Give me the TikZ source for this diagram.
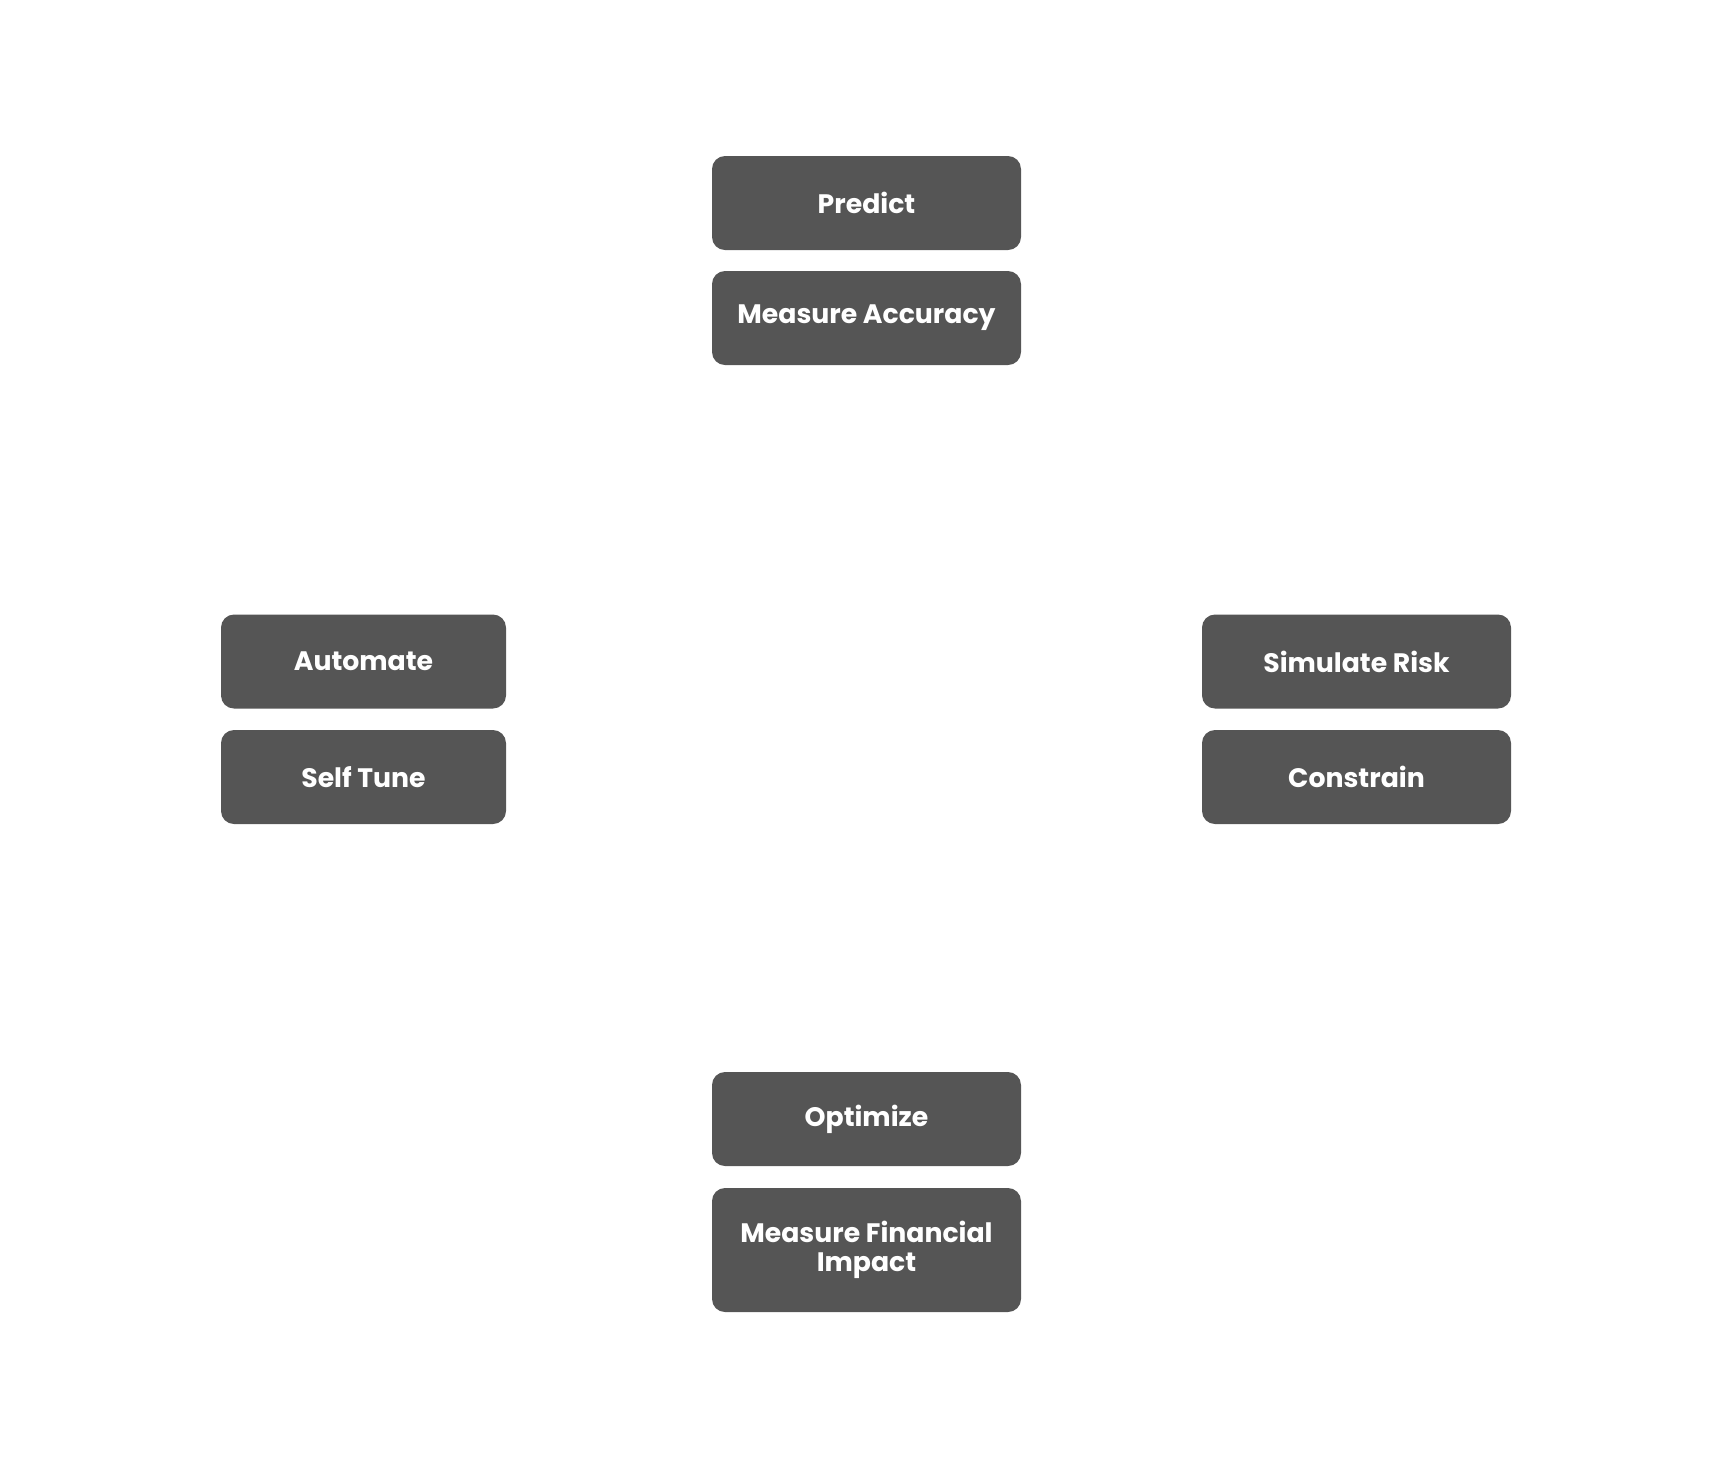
\documentclass[tikz,border=0pt]{standalone}
\usepackage{fontspec}
\setmainfont{Poppins}
\definecolor{boxgray}{HTML}{555555}
\begin{document}
\begin{tikzpicture}[%
  stage/.style = {fill=boxgray, rounded corners=0.13cm, text=white,
    font=\fontsize{7.6}{8.4}\selectfont\bfseries, align=center,
    minimum width=3.09cm, minimum height=0.94cm, inner sep=0pt},
  narrow/.style = {stage, minimum width=2.85cm},
]

  \useasboundingbox (0,0) rectangle (17.28,-14.65);

  % top pair
  \node[stage] (predict) at (8.665,-2.03) {Predict};
  \node[stage] (accuracy) at (8.665,-3.18) {Measure Accuracy};

  % left pair
  \node[narrow] (automate) at (3.635,-6.615) {Automate};
  \node[narrow] (selftune) at (3.635,-7.77) {Self Tune};

  % right pair
  \node[stage] (simulate) at (13.565,-6.615) {Simulate Risk};
  \node[stage] (constrain) at (13.565,-7.77) {Constrain};

  % bottom pair
  \node[stage] (optimize) at (8.665,-11.19) {Optimize};
  \node[stage, minimum height=1.24cm] (impact) at (8.665,-12.5)
    {Measure Financial\\Impact};

\end{tikzpicture}
\end{document}
